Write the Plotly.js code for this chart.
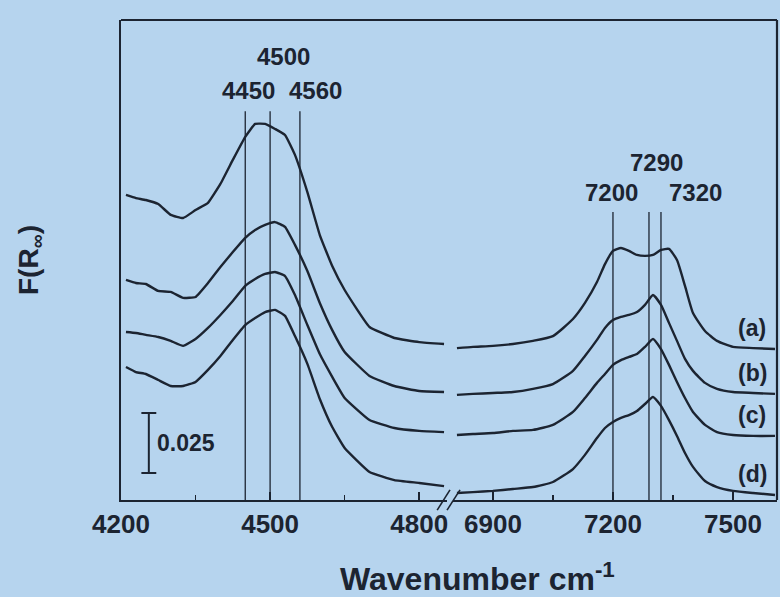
<!DOCTYPE html>
<html>
<head>
<meta charset="utf-8">
<script src="https://cdn.plot.ly/plotly-3.0.1.min.js"></script>
<style>
  html, body { margin: 0; padding: 0; background: #b6d4ee; }
  #chart { width: 780px; height: 597px; }
</style>
</head>
<body>
<div id="chart"></div>
<script>
// Wavenumber grids (cm^-1) for the two segments of the broken axis
const wnLeft = [4210, 4230, 4250, 4275, 4300, 4325, 4350, 4375, 4400, 4425, 4450, 4470,
                4490, 4510, 4530, 4550, 4575, 4600, 4625, 4650, 4700, 4750, 4800, 4850];
const wnRight = [6810, 6850, 6900, 6950, 7000, 7050, 7100, 7130, 7160, 7180, 7200, 7220, 7240,
                 7260, 7280, 7300, 7320, 7340, 7360, 7380, 7400, 7430, 7460, 7500, 7550, 7605];

// F(R∞) spectra (offset)
const aLeft = [0.1271, 0.1258, 0.1250, 0.1233, 0.1188, 0.1175, 0.1208, 0.1238, 0.1317, 0.1417, 0.1513, 0.1567,
               0.1567, 0.1546, 0.1521, 0.1438, 0.1283, 0.1104, 0.0975, 0.0875, 0.0721, 0.0675, 0.0658, 0.0650];
const bLeft = [0.0917, 0.0904, 0.0900, 0.0871, 0.0867, 0.0842, 0.0846, 0.0904, 0.0971, 0.1033, 0.1092, 0.1125,
               0.1146, 0.1158, 0.1138, 0.1063, 0.0954, 0.0821, 0.0708, 0.0617, 0.0517, 0.0475, 0.0454, 0.0450];
const cLeft = [0.0700, 0.0696, 0.0688, 0.0679, 0.0663, 0.0642, 0.0671, 0.0717, 0.0771, 0.0829, 0.0892, 0.0921,
               0.0942, 0.0950, 0.0933, 0.0854, 0.0729, 0.0608, 0.0513, 0.0425, 0.0333, 0.0300, 0.0288, 0.0283];
const dLeft = [0.0554, 0.0533, 0.0525, 0.0500, 0.0475, 0.0475, 0.0492, 0.0542, 0.0600, 0.0667, 0.0729, 0.0758,
               0.0783, 0.0792, 0.0767, 0.0683, 0.0567, 0.0421, 0.0304, 0.0217, 0.0117, 0.0083, 0.0071, 0.0058];

const aRight = [0.0633, 0.0638, 0.0642, 0.0650, 0.0663, 0.0683, 0.0754, 0.0821, 0.0908, 0.0983, 0.1038, 0.1050, 0.1038,
                0.1021, 0.1017, 0.1021, 0.1042, 0.1046, 0.1000, 0.0892, 0.0779, 0.0704, 0.0663, 0.0638, 0.0633, 0.0629];
const bRight = [0.0438, 0.0442, 0.0446, 0.0450, 0.0463, 0.0483, 0.0538, 0.0600, 0.0667, 0.0717, 0.0750, 0.0763, 0.0771,
                0.0783, 0.0813, 0.0854, 0.0813, 0.0738, 0.0663, 0.0588, 0.0538, 0.0488, 0.0463, 0.0450, 0.0446, 0.0442];
const cRight = [0.0271, 0.0275, 0.0279, 0.0288, 0.0292, 0.0313, 0.0367, 0.0425, 0.0488, 0.0525, 0.0563, 0.0583, 0.0596,
                0.0608, 0.0638, 0.0671, 0.0629, 0.0563, 0.0492, 0.0425, 0.0367, 0.0313, 0.0283, 0.0271, 0.0267, 0.0267];
const dRight = [0.0029, 0.0033, 0.0038, 0.0046, 0.0054, 0.0075, 0.0129, 0.0188, 0.0258, 0.0300, 0.0325, 0.0342, 0.0354,
                0.0371, 0.0400, 0.0429, 0.0392, 0.0333, 0.0267, 0.0196, 0.0138, 0.0079, 0.0054, 0.0038, 0.0029, 0.0021];

const sampleLabels = ['(a)', '(b)', '(c)', '(d)'];
const peaksLeft = [4450, 4500, 4560];
const peaksRight = [7200, 7290, 7320];
const scaleBarValue = 0.025;

// ---------- styling / layout ----------
const bg = '#b6d4ee';
const ink = '#1c2431';
const font = 'Liberation Sans, Arial, sans-serif';

const leftSeries = [aLeft, bLeft, cLeft, dLeft];
const rightSeries = [aRight, bRight, cRight, dRight];

const traces = [];
leftSeries.forEach((ys, i) => {
  traces.push({x: wnLeft, y: ys, xaxis: 'x', yaxis: 'y', type: 'scatter', mode: 'lines',
    line: {color: ink, width: 2.4, shape: 'spline', smoothing: 0.35}, name: sampleLabels[i], hoverinfo: 'x+y'});
});
rightSeries.forEach((ys, i) => {
  traces.push({x: wnRight, y: ys, xaxis: 'x2', yaxis: 'y', type: 'scatter', mode: 'lines',
    line: {color: ink, width: 2.4, shape: 'spline', smoothing: 0.5}, name: sampleLabels[i], hoverinfo: 'x+y'});
});

const shapes = [];
const annotations = [];

// peak marker lines
const topLeft = 0.162, topRight = 0.12;
peaksLeft.forEach(p => shapes.push({type: 'line', xref: 'x', yref: 'y', x0: p, x1: p, y0: 0, y1: topLeft,
  line: {color: ink, width: 1.3}}));
peaksRight.forEach(p => shapes.push({type: 'line', xref: 'x2', yref: 'y', x0: p, x1: p, y0: 0, y1: topRight,
  line: {color: ink, width: 1.3}}));

// peak labels
const peakFont = {family: font, size: 24, color: ink, weight: 'bold'};
const leftLabelY = [0.1708, 0.1846, 0.1708];
const leftShift = [3, 13, 16];
peaksLeft.forEach((p, i) => annotations.push({xref: 'x', yref: 'y', x: p, y: leftLabelY[i], xshift: leftShift[i],
  text: String(p), showarrow: false, font: peakFont, xanchor: 'center', yanchor: 'middle'}));
const rightLabelY = [0.1283, 0.1408, 0.1283];
const rightShift = [-1, 8, 35];
peaksRight.forEach((p, i) => annotations.push({xref: 'x2', yref: 'y', x: p, y: rightLabelY[i], xshift: rightShift[i],
  text: String(p), showarrow: false, font: peakFont, xanchor: 'center', yanchor: 'middle'}));

// sample labels at right end of each curve
rightSeries.forEach((ys, i) => annotations.push({xref: 'x2', yref: 'y', x: 7548, y: ys[ys.length - 1], yshift: 21,
  text: sampleLabels[i], showarrow: false, font: {family: font, size: 23, color: ink, weight: 'bold'},
  xanchor: 'center', yanchor: 'middle'}));

// scale bar
const sbX = 4256, sbY0 = 0.01125, sbY1 = sbY0 + scaleBarValue, cap = 15;
shapes.push({type: 'line', xref: 'x', yref: 'y', x0: sbX, x1: sbX, y0: sbY0, y1: sbY1, line: {color: ink, width: 2}});
shapes.push({type: 'line', xref: 'x', yref: 'y', x0: sbX - cap, x1: sbX + cap, y0: sbY0, y1: sbY0, line: {color: ink, width: 2}});
shapes.push({type: 'line', xref: 'x', yref: 'y', x0: sbX - cap, x1: sbX + cap, y0: sbY1, y1: sbY1, line: {color: ink, width: 2}});
annotations.push({xref: 'x', yref: 'y', x: sbX + 12, y: (sbY0 + sbY1) / 2, text: String(scaleBarValue),
  showarrow: false, xanchor: 'left', yanchor: 'middle', font: {family: font, size: 23, color: ink, weight: 'bold'}});

// frame: top and right edges
shapes.push({type: 'line', xref: 'paper', yref: 'paper', x0: 0, x1: 1, y0: 1, y1: 1, line: {color: ink, width: 2.2}});
shapes.push({type: 'line', xref: 'paper', yref: 'paper', x0: 1, x1: 1, y0: 0, y1: 1, line: {color: ink, width: 2.2}});
// axis break marks
shapes.push({type: 'line', xref: 'paper', yref: 'paper', x0: 0.482, x1: 0.5015, y0: -0.021, y1: 0.021, line: {color: ink, width: 1.6}});
shapes.push({type: 'line', xref: 'paper', yref: 'paper', x0: 0.497, x1: 0.5168, y0: -0.021, y1: 0.021, line: {color: ink, width: 1.6}});

// x-axis title (spans both segments)
annotations.push({xref: 'paper', yref: 'paper', x: 0.544, y: -0.16, text: 'Wavenumber cm<sup>-1</sup>',
  showarrow: false, xanchor: 'center', yanchor: 'middle', font: {family: font, size: 32, color: ink, weight: 'bold'}});

const tickFont = {family: font, size: 26, color: ink, weight: 'bold'};
const xCommon = {
  ticks: 'inside', ticklen: 8, tickwidth: 2, tickcolor: ink, showline: true, linecolor: ink, linewidth: 2.2,
  showgrid: false, zeroline: false, tickfont: tickFont, dtick: 300, tickmode: 'linear',
  minor: {dtick: 150, ticks: 'inside', ticklen: 5, tickwidth: 1.5, tickcolor: ink, showgrid: false}
};

const layout = {
  width: 780, height: 597,
  margin: {l: 121, r: 3, t: 20, b: 97},
  paper_bgcolor: bg, plot_bgcolor: bg,
  showlegend: false,
  xaxis: Object.assign({}, xCommon, {domain: [0, 0.497], range: [4200, 4856], tick0: 4200,
    minor: Object.assign({}, xCommon.minor, {tick0: 4200})}),
  xaxis2: Object.assign({}, xCommon, {domain: [0.506, 1], range: [6800, 7610], tick0: 6900, anchor: 'y',
    minor: Object.assign({}, xCommon.minor, {tick0: 6900})}),
  yaxis: {range: [0, 0.2], showline: true, linecolor: ink, linewidth: 2.2, showgrid: false, zeroline: false,
    showticklabels: false, ticks: '',
    title: {text: 'F(R<sub>∞</sub>)', font: {family: font, size: 28, color: ink, weight: 'bold'}, standoff: 72}},
  shapes: shapes,
  annotations: annotations
};

Plotly.newPlot('chart', traces, layout, {displayModeBar: false, staticPlot: true});
</script>
</body>
</html>
